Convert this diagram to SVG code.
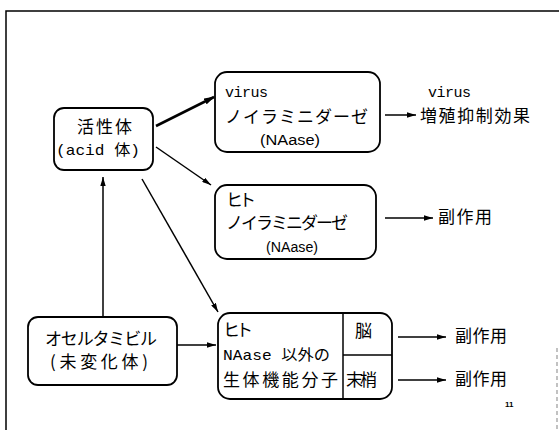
<svg xmlns="http://www.w3.org/2000/svg" width="559" height="430" viewBox="0 0 559 430">
<defs>
<marker id="ah" viewBox="0 0 10 6" refX="10" refY="3" markerWidth="9" markerHeight="5.4" markerUnits="userSpaceOnUse" orient="auto">
<path d="M0,0 L10,3 L0,6 Z" fill="#000"/>
</marker>
<marker id="ahb" viewBox="0 0 10 6" refX="9" refY="3" markerWidth="11" markerHeight="7" markerUnits="userSpaceOnUse" orient="auto">
<path d="M0,0 L10,3 L0,6 Z" fill="#000"/>
</marker>
</defs>
<style>
.box{fill:#fff;stroke:#000;stroke-width:1.8}
.ln{stroke:#000;stroke-width:1.5;fill:none}
.jp{font-family:"Noto Sans CJK JP","Noto Sans CJK SC",sans-serif;font-size:17px;fill:#000}
.mono{font-family:"Liberation Mono","Noto Sans CJK JP",monospace;font-size:15px;fill:#000}
.cond{font-family:"Liberation Sans","Noto Sans CJK JP",sans-serif;font-size:14px;fill:#000}
.c{stroke:#000;stroke-width:1.5;fill:none;marker-end:url(#ah)}
</style>
<rect width="559" height="430" fill="#fff"/>
<path d="M6,430 V11 H559" class="ln" stroke-width="2"/>
<line x1="557" y1="348" x2="557" y2="430" stroke="#999" stroke-width="1.2" stroke-dasharray="4,3"/>

<g id="active">
<rect class="box" x="54" y="108" width="99" height="62" rx="10"/>
<text class="jp" x="77" y="133" textLength="55">活性体</text>
<text class="mono" x="56" y="155" textLength="84" lengthAdjust="spacingAndGlyphs">(acid 体)</text>
</g>

<g id="virus-na">
<rect class="box" x="215" y="72" width="165" height="80" rx="12"/>
<text class="mono" x="225" y="97" textLength="43">virus</text>
<text class="jp" x="225" y="123" textLength="143">ノイラミニダーゼ</text>
<text class="cond" x="260" y="145" textLength="60" lengthAdjust="spacingAndGlyphs">(NAase)</text>
</g>

<g id="human-na">
<rect class="box" x="215" y="185" width="161" height="74" rx="12"/>
<text class="jp" x="226" y="206" textLength="30">ヒト</text>
<text class="jp" x="226" y="229" textLength="122">ノイラミニダーゼ</text>
<text class="cond" x="266" y="252" textLength="52" lengthAdjust="spacingAndGlyphs">(NAase)</text>
</g>

<g id="oseltamivir">
<rect class="box" x="28" y="317" width="149" height="68" rx="10"/>
<text class="jp" x="45" y="345" textLength="112">オセルタミビル</text>
<text class="jp" x="50" y="368" textLength="98">(未変化体)</text>
</g>

<g id="other-molecules">
<rect class="box" x="218" y="313" width="174" height="86" rx="12"/>
<line class="ln" x1="343" y1="313" x2="343" y2="399"/>
<line class="ln" x1="343" y1="355" x2="392" y2="355"/>
<text class="jp" x="223" y="336" textLength="30">ヒト</text>
<text class="mono" x="223" y="360" font-size="14" textLength="107" lengthAdjust="spacingAndGlyphs">NAase 以外の</text>
<text class="jp" x="223" y="386" textLength="115">生体機能分子</text>
<text class="jp" x="355" y="337" textLength="16">脳</text>
<text class="jp" x="346" y="386" textLength="31">末梢</text>
</g>

<g id="out-virus">
<text class="mono" x="428" y="97" textLength="43">virus</text>
<text class="jp" x="420" y="122" textLength="110">増殖抑制効果</text>
</g>
<g id="out-side1"><text class="jp" x="438" y="223" textLength="54">副作用</text></g>
<g id="out-side2"><text class="jp" x="455" y="342" textLength="52">副作用</text></g>
<g id="out-side3"><text class="jp" x="455" y="385" textLength="52">副作用</text></g>
<text x="505" y="407" font-family="Liberation Sans,sans-serif" font-size="8" font-weight="bold">11</text>

<g id="connectors">
<line x1="156" y1="126" x2="214" y2="97" stroke="#000" stroke-width="2.6" marker-end="url(#ahb)"/>
<line class="c" x1="156" y1="147" x2="211" y2="185"/>
<line class="c" x1="142" y1="179" x2="218" y2="312"/>
<line class="c" x1="103" y1="317" x2="103" y2="177"/>
<line class="c" x1="177" y1="345" x2="216" y2="345"/>
<line class="c" x1="385" y1="115" x2="416" y2="115"/>
<line class="c" x1="385" y1="218" x2="433" y2="218"/>
<line class="c" x1="398" y1="337" x2="446" y2="337"/>
<line class="c" x1="398" y1="380" x2="446" y2="380"/>
</g>
</svg>
